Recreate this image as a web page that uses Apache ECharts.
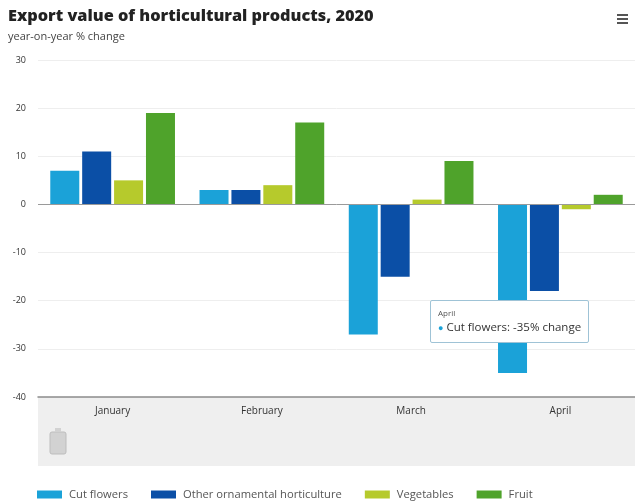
<!DOCTYPE html>
<html>
<head>
<meta charset="utf-8">
<title>Export value of horticultural products, 2020</title>
<script src="https://cdn.jsdelivr.net/npm/echarts@6/dist/echarts.min.js"></script>
<style>
  html, body { margin: 0; padding: 0; background: #fff; }
  #chart { width: 635px; height: 504px; }
</style>
</head>
<body>
<div id="chart"></div>
<script>
// Year-on-year % change in export value, by month of 2020
const months = ['January', 'February', 'March', 'April'];
const cutFlowers = [7, 3, -27, -35];
const otherOrnamental = [11, 3, -15, -18];
const vegetables = [5, 4, 1, -1];
const fruit = [19, 17, 9, 2];

const seriesNames = ['Cut flowers', 'Other ornamental horticulture', 'Vegetables', 'Fruit'];
const seriesColors = ['#1ba2d8', '#0b4fa6', '#b6ca2c', '#4fa32b'];
const seriesValues = [cutFlowers, otherOrnamental, vegetables, fruit];

const chart = echarts.init(document.getElementById('chart'), null, { renderer: 'canvas' });
const fontFamily = '"Open Sans", Roboto, sans-serif';

const series = seriesNames.map((name, i) => {
  const s = {
    name: name,
    type: 'bar',
    data: seriesValues[i],
    barWidth: 29,
    barGap: '10%',
    itemStyle: { color: seriesColors[i] },
    emphasis: { disabled: true }
  };
  if (i === 0) {
    s.markLine = {
      silent: true,
      symbol: 'none',
      label: { show: false },
      lineStyle: { color: '#9a9a9a', width: 1, type: 'solid' },
      data: [{ yAxis: 0 }]
    };
  }
  return s;
});

chart.setOption({
  animation: false,
  backgroundColor: '#ffffff',
  textStyle: { fontFamily: fontFamily },
  title: {
    text: 'Export value of horticultural products, 2020',
    subtext: 'year-on-year % change',
    left: 3,
    top: 3,
    itemGap: 7,
    textStyle: { fontSize: 16.3, fontWeight: 800, color: '#222', fontFamily: fontFamily },
    subtextStyle: { fontSize: 11, color: '#444', fontFamily: fontFamily }
  },
  graphic: [
    // band under the category axis
    { type: 'rect', z: -1, shape: { x: 38, y: 398, width: 597, height: 68 }, style: { fill: '#efefef' } },
    // slider handle
    { type: 'rect', shape: { x: 50, y: 432, width: 16, height: 22, r: 2 }, style: { fill: '#d2d2d2', stroke: '#bdbdbd', lineWidth: 1 } },
    { type: 'rect', shape: { x: 55, y: 428, width: 6, height: 4 }, style: { fill: '#d2d2d2' } },
    // menu icon
    { type: 'rect', shape: { x: 617, y: 14, width: 11, height: 2 }, style: { fill: '#555' } },
    { type: 'rect', shape: { x: 617, y: 18, width: 11, height: 2 }, style: { fill: '#555' } },
    { type: 'rect', shape: { x: 617, y: 22, width: 11, height: 2 }, style: { fill: '#555' } }
  ],
  legend: {
    data: seriesNames,
    left: 32,
    top: 484,
    itemWidth: 25,
    itemHeight: 8,
    itemGap: 23,
    icon: 'rect',
    selectedMode: false,
    textStyle: { fontSize: 11.2, color: '#555', fontFamily: fontFamily, padding: [0, 0, 0, 2] }
  },
  tooltip: {
    trigger: 'item',
    triggerOn: 'none',
    alwaysShowContent: true,
    position: [430, 300],
    backgroundColor: '#ffffff',
    borderColor: '#9fc3d6',
    borderWidth: 1,
    padding: [6, 7],
    extraCssText: 'box-shadow:none;border-radius:2px;',
    formatter: function (p) {
      return '<div style="font-size:8px;color:#555;line-height:12px;font-family:\'Open Sans\',sans-serif">' + p.name + '</div>' +
        '<div style="font-size:11.5px;color:#333;line-height:16px;font-family:\'Open Sans\',sans-serif">' +
        '<span style="color:' + p.color + ';font-size:9px">\u25CF</span> ' +
        p.seriesName + ': ' + p.value + '% change</div>';
    }
  },
  grid: { left: 38, right: 0, top: 60, bottom: 107, containLabel: false },
  xAxis: {
    type: 'category',
    data: months,
    axisLine: { onZero: false, lineStyle: { color: '#8c8c8c', width: 1.5 } },
    axisTick: { show: false },
    axisLabel: { color: '#333', fontSize: 10, margin: 9, fontFamily: fontFamily },
    splitLine: { show: false }
  },
  yAxis: {
    type: 'value',
    min: -40,
    max: 30,
    interval: 10,
    axisLine: { show: false },
    axisTick: { show: false },
    axisLabel: { color: '#333', fontSize: 9, margin: 12, fontFamily: fontFamily },
    splitLine: { lineStyle: { color: '#eeeeee', width: 1 } }
  },
  series: series
});

// keep the April cut-flowers reading on display
chart.dispatchAction({ type: 'showTip', seriesIndex: 0, dataIndex: 3 });
</script>
</body>
</html>
